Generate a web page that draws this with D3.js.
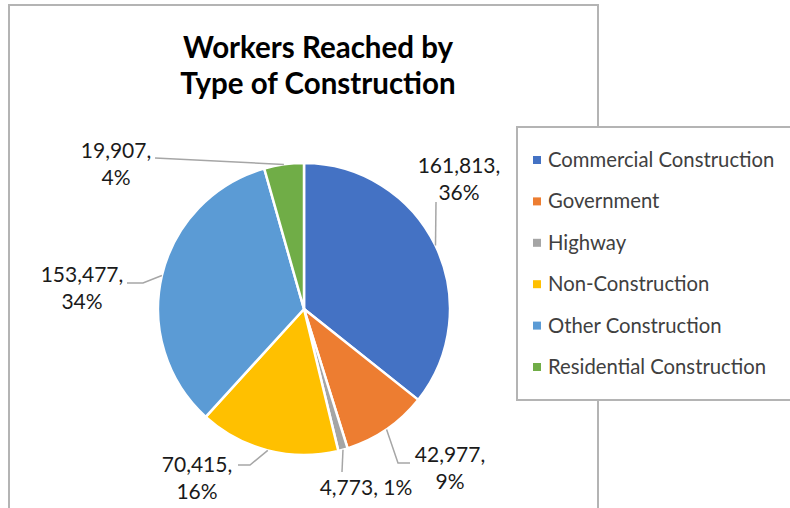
<!DOCTYPE html>
<html>
<head>
<meta charset="utf-8">
<script src="https://cdn.jsdelivr.net/npm/d3@7"></script>
<style>
  body { margin: 0; background: #fff; }
  text { font-family: Lato, "Open Sans", sans-serif; }
</style>
</head>
<body>
<svg id="chart" width="790" height="508"></svg>
<script>
// data
var categories = ["Commercial Construction", "Government", "Highway", "Non-Construction", "Other Construction", "Residential Construction"];
var workers = [161813, 42977, 4773, 70415, 153477, 19907];
var percents = ["36%", "9%", "1%", "16%", "34%", "4%"];
var colors = ["#4472C4", "#ED7D31", "#A5A5A5", "#FFC000", "#5B9BD5", "#70AD47"];

var svg = d3.select("#chart"),
    width = +svg.attr("width"),
    height = +svg.attr("height");

var cx = 304, cy = 309, radius = 146;

// chart frame
svg.append("rect")
  .attr("x", 9).attr("y", 5)
  .attr("width", 589).attr("height", 520)
  .attr("fill", "none")
  .attr("stroke", "#b4b4b4")
  .attr("stroke-width", 2);

// title
var title = svg.append("text")
  .attr("text-anchor", "middle")
  .attr("font-weight", "bold")
  .attr("font-size", "29.5px")
  .attr("fill", "#000");
title.append("tspan").attr("x", 318).attr("y", 58).text("Workers Reached by");
title.append("tspan").attr("x", 318).attr("y", 94).text("Type of Construction");

// pie
var pie = d3.pie().sort(null).value(function(d) { return d; });
var arc = d3.arc().innerRadius(0).outerRadius(radius);
var edge = d3.arc().innerRadius(radius).outerRadius(radius);
var slices = pie(workers);

var g = svg.append("g").attr("transform", "translate(" + cx + "," + cy + ")");

g.selectAll(".slice")
  .data(slices)
  .enter().append("path")
  .attr("class", "slice")
  .attr("d", arc)
  .attr("fill", function(d, i) { return colors[i]; })
  .attr("stroke", "#fff")
  .attr("stroke-width", 2.5)
  .attr("stroke-linejoin", "round");

// label placement (label centre x, first baseline y, leader points)
var labelLayout = [
  {x: 459, y: 173, oneLine: false, leader: [[436, 202]]},
  {x: 450, y: 462, oneLine: false, leader: [[398, 463], [410, 463]]},
  {x: 366, y: 495, oneLine: true,  leader: [[342, 472]]},
  {x: 197, y: 472, oneLine: false, leader: [[250, 465], [238, 465]]},
  {x: 82,  y: 282, oneLine: false, leader: [[143, 283], [127, 283]]},
  {x: 116, y: 158, oneLine: false, leader: [[155, 158]]}
];

var fmt = d3.format(",");
var line = d3.line();

slices.forEach(function(s, i) {
  var lay = labelLayout[i];
  var p = edge.centroid(s);
  var pts = [[p[0] + cx, p[1] + cy]].concat(lay.leader);
  svg.append("path")
    .attr("d", line(pts))
    .attr("fill", "none")
    .attr("stroke", "#a6a6a6")
    .attr("stroke-width", 1.5);

  var t = svg.append("text")
    .attr("text-anchor", "middle")
    .attr("font-size", "21px")
    .attr("fill", "#1a1a1a");
  if (lay.oneLine) {
    t.append("tspan").attr("x", lay.x).attr("y", lay.y)
      .text(fmt(workers[i]) + ", " + percents[i]);
  } else {
    t.append("tspan").attr("x", lay.x).attr("y", lay.y).text(fmt(workers[i]) + ",");
    t.append("tspan").attr("x", lay.x).attr("y", lay.y + 27).text(percents[i]);
  }
});

// legend
svg.append("rect")
  .attr("x", 517).attr("y", 127)
  .attr("width", 290).attr("height", 273)
  .attr("fill", "#fff")
  .attr("stroke", "#b4b4b4")
  .attr("stroke-width", 2);

var legend = svg.selectAll(".legend")
  .data(categories)
  .enter().append("g")
  .attr("class", "legend")
  .attr("transform", function(d, i) { return "translate(533," + (160 + i * 41.4) + ")"; });

legend.append("rect")
  .attr("x", 0).attr("y", -4)
  .attr("width", 8).attr("height", 8)
  .attr("fill", function(d, i) { return colors[i]; });

legend.append("text")
  .attr("x", 15)
  .attr("y", 7)
  .attr("font-size", "20.3px")
  .attr("fill", "#404040")
  .text(function(d) { return d; });
</script>
</body>
</html>
